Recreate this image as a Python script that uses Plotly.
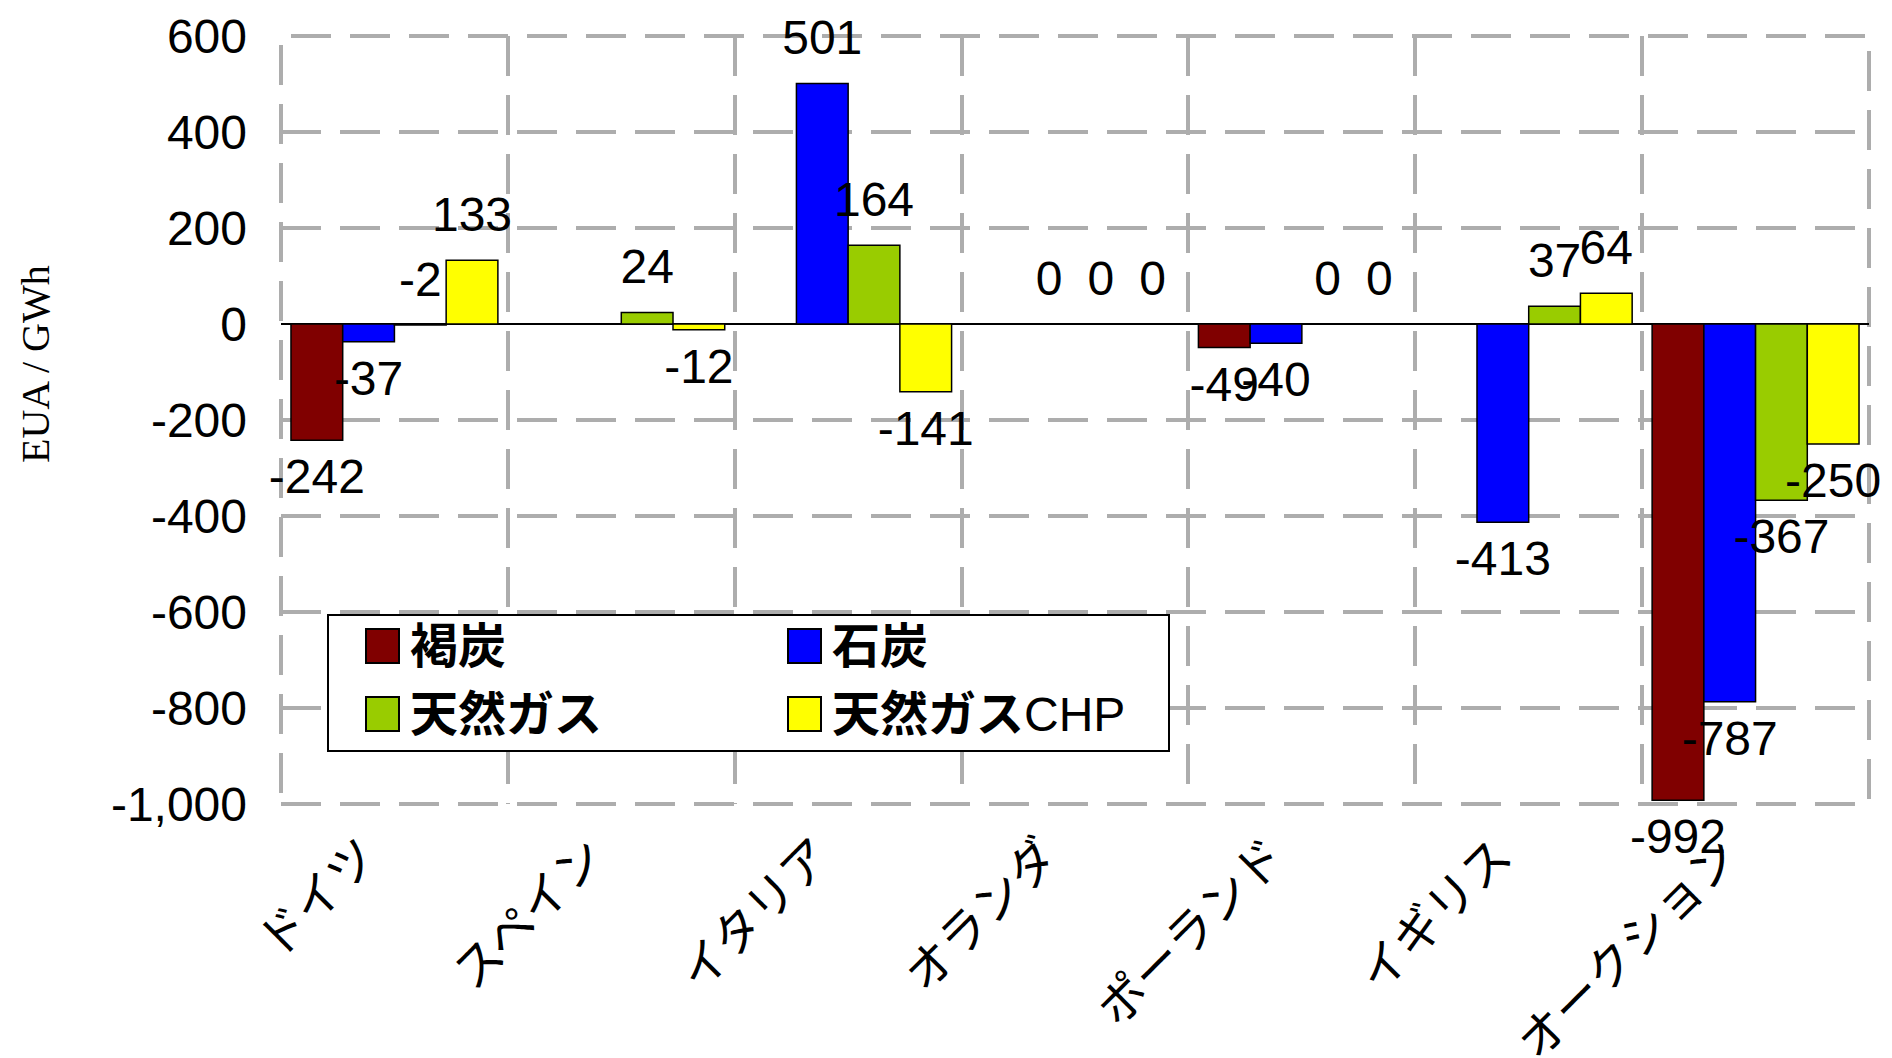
import re
import plotly.graph_objects as go

# data
countries = ["ドイツ", "スペイン", "イタリア", "オランダ", "ポーランド", "イギリス", "オークション"]
lignite = [-242, None, None, None, -49, None, -992]
coal = [-37, None, 501, 0, -40, -413, -787]
gas = [-2, 24, 164, 0, 0, 37, -367]
gas_chp = [133, -12, -141, 0, 0, 64, -250]

series_names = ["褐炭", "石炭", "天然ガス", "天然ガスCHP"]
series_colors = ["#800000", "#0000FF", "#99CC00", "#FFFF00"]

y_ticks = [-1000, -800, -600, -400, -200, 0, 200, 400, 600]
y_ticktext = ["-1,000", "-800", "-600", "-400", "-200", "0", "200", "400", "600"]

W, H = 1892, 1058
OFF = 8  # page body margin
# plot area on screen: x 281..1869, y 36..804
L, T = 281 - OFF, 36 - OFF
R, B = W - (1869 - OFF), H - (804 - OFF)
BARGAP = 0.088


def px_x(px):
    return (px - OFF - L) / (W - L - R)


def px_y(py):
    return (H - B - (py - OFF)) / (H - T - B)


label_font = dict(family="Liberation Sans", size=48, color="black")

fig = go.Figure()
all_vals = [lignite, coal, gas, gas_chp]
for name, vals, col in zip(series_names, all_vals, series_colors):
    fig.add_trace(go.Bar(
        x=countries, y=vals, name=name,
        marker=dict(color=col, line=dict(color="black", width=1.5)),
        showlegend=False,
    ))

# value labels: grouped text points so they sit a bit off the bar ends
for name, vals in zip(series_names, all_vals):
    fig.add_trace(go.Scatter(
        x=countries, y=vals, mode="markers+text", name=name,
        text=["" if v is None else str(v) for v in vals],
        textposition=["top center" if (v is not None and v > -5) else "bottom center" for v in vals],
        marker=dict(size=26, color="rgba(0,0,0,0)"),
        textfont=label_font, cliponaxis=False, showlegend=False, hoverinfo="skip",
    ))

grid = dict(showgrid=True, gridcolor="#ADADAD", gridwidth=4, griddash="40px,19px")

fig.update_layout(
    width=W, height=H,
    margin=dict(l=L, r=R, t=T, b=B),
    paper_bgcolor="white", plot_bgcolor="white",
    barmode="group", bargap=BARGAP, bargroupgap=0,
    scattermode="group", scattergap=BARGAP,
    font=dict(family="Liberation Sans", color="black"),
    xaxis=dict(type="category", tickson="boundaries", range=[-0.5, 6.5],
               tickangle=-45, ticks="", showline=False, zeroline=False, automargin=False,
               tickfont=dict(family="Noto Sans CJK JP", size=48, color="black"),
               ticklabelstandoff=13, ticklabelshift=-31, **grid),
    yaxis=dict(range=[-1000, 600], tickvals=y_ticks, ticktext=y_ticktext, automargin=False,
               ticks="", showline=False, zeroline=True, zerolinecolor="black", zerolinewidth=2,
               tickfont=dict(family="Liberation Sans", size=48, color="black"),
               ticklabelstandoff=33, **grid),
)

# dashed frame on the plot edges (edge gridlines are not drawn by plotly)
fig.add_shape(type="rect", xref="paper", yref="paper", x0=0, x1=1, y0=0, y1=1,
              line=dict(color="#ADADAD", width=4, dash="40px,19px"), layer="below")

# y axis title
fig.add_annotation(text="EUA / GWh", xref="paper", yref="paper", x=px_x(35), y=px_y(364),
                   xanchor="center", yanchor="middle",
                   textangle=-90, showarrow=False,
                   font=dict(family="Liberation Serif", size=40, color="black"))

# legend box drawn by hand so the swatches can be large
fig.add_shape(type="rect", xref="paper", yref="paper",
              x0=px_x(328), x1=px_x(1169), y0=px_y(615), y1=px_y(751),
              line=dict(color="black", width=2), fillcolor="white", layer="above")
cols = [366, 788]
rows = [646, 714]
for i, (name, col) in enumerate(zip(series_names, series_colors)):
    cx = cols[i % 2]
    cy = rows[i // 2]
    fig.add_shape(type="rect", xref="paper", yref="paper",
                  x0=px_x(cx), x1=px_x(cx + 33), y0=px_y(cy - 17), y1=px_y(cy + 17),
                  line=dict(color="black", width=2), fillcolor=col, layer="above")
    fig.add_annotation(text=re.sub(r"([^\x00-\x7f]+)", r"<b>\1</b>", name),
                       xref="paper", yref="paper",
                       x=px_x(cx + 42), y=px_y(cy), xanchor="left", yanchor="middle",
                       showarrow=False,
                       font=dict(family="Liberation Sans, Noto Sans CJK JP", size=48, color="black"))

fig.write_html("out.html")
